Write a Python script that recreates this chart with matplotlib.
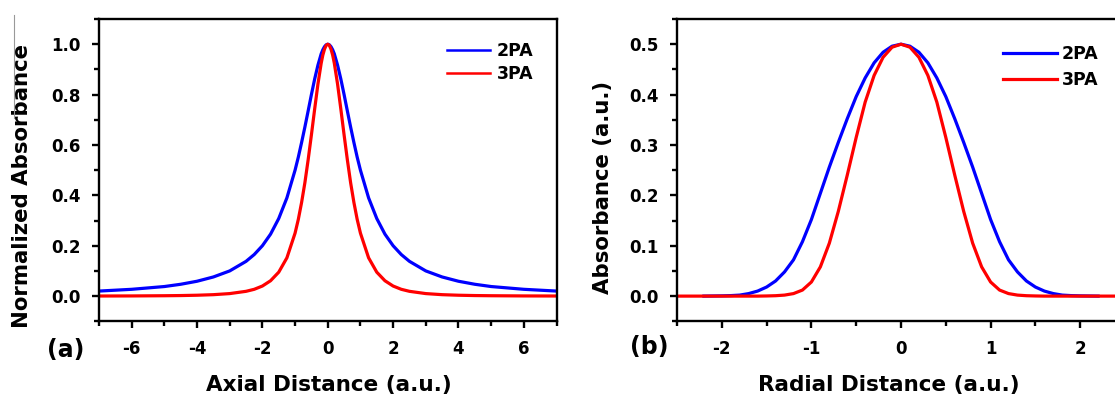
import matplotlib
matplotlib.use('Agg')
import matplotlib.pyplot as plt
from matplotlib.lines import Line2D
from matplotlib.ticker import MultipleLocator

plt.rcParams['font.family'] = 'DejaVu Sans'
plt.rcParams['font.weight'] = 'bold'
plt.rcParams['axes.unicode_minus'] = False

# (a) axial profiles
axial_x = [-7, -6, -5, -4.5, -4, -3.5, -3, -2.5, -2.25, -2, -1.75, -1.5, -1.25, -1,
           -0.9, -0.8, -0.7, -0.6, -0.5, -0.4, -0.3, -0.2, -0.15, -0.1, -0.05, 0,
           0.05, 0.1, 0.15, 0.2, 0.3, 0.4, 0.5, 0.6, 0.7, 0.8, 0.9,
           1, 1.25, 1.5, 1.75, 2, 2.25, 2.5, 3, 3.5, 4, 4.5, 5, 6, 7]
axial_2pa = [0.020, 0.027, 0.038, 0.047, 0.059, 0.076, 0.100, 0.138, 0.165, 0.200, 0.246, 0.308, 0.390, 0.500,
             0.552, 0.610, 0.671, 0.735, 0.800, 0.862, 0.917, 0.962, 0.978, 0.990, 0.9975, 1.000,
             0.9975, 0.990, 0.978, 0.962, 0.917, 0.862, 0.800, 0.735, 0.671, 0.610, 0.552,
             0.500, 0.390, 0.308, 0.246, 0.200, 0.165, 0.138, 0.100, 0.076, 0.059, 0.047, 0.038, 0.027, 0.020]
axial_3pa = [0.0004, 0.0007, 0.0015, 0.0022, 0.0035, 0.0057, 0.010, 0.019, 0.027, 0.040, 0.061, 0.095, 0.152, 0.250,
             0.305, 0.372, 0.450, 0.541, 0.640, 0.743, 0.842, 0.925, 0.957, 0.980, 0.995, 1.000,
             0.995, 0.980, 0.957, 0.925, 0.842, 0.743, 0.640, 0.541, 0.450, 0.372, 0.305,
             0.250, 0.152, 0.095, 0.061, 0.040, 0.027, 0.019, 0.010, 0.0057, 0.0035, 0.0022, 0.0015, 0.0007, 0.0004]

# (b) radial profiles
radial_x_2pa = [-2.2, -2.0, -1.9, -1.8, -1.7, -1.6, -1.5, -1.4, -1.3, -1.2, -1.1, -1.0,
                -0.9, -0.8, -0.7, -0.6, -0.5, -0.4, -0.3, -0.2, -0.1, 0,
                0.1, 0.2, 0.3, 0.4, 0.5, 0.6, 0.7, 0.8, 0.9,
                1.0, 1.1, 1.2, 1.3, 1.4, 1.5, 1.6, 1.7, 1.8, 1.9, 2.0, 2.2]
radial_2pa = [0.0, 0.0005, 0.001, 0.002, 0.005, 0.010, 0.018, 0.030, 0.048, 0.072, 0.108, 0.152,
              0.204, 0.256, 0.305, 0.352, 0.396, 0.433, 0.463, 0.484, 0.496, 0.500,
              0.496, 0.484, 0.463, 0.433, 0.396, 0.352, 0.305, 0.256, 0.204,
              0.152, 0.108, 0.072, 0.048, 0.030, 0.018, 0.010, 0.005, 0.002, 0.001, 0.0005, 0.0]
radial_x_3pa = [-2.5, -2.0, -1.6, -1.5, -1.4, -1.3, -1.2, -1.1, -1.0,
                -0.9, -0.8, -0.7, -0.6, -0.5, -0.4, -0.3, -0.2, -0.1, 0,
                0.1, 0.2, 0.3, 0.4, 0.5, 0.6, 0.7, 0.8, 0.9,
                1.0, 1.1, 1.2, 1.3, 1.4, 1.5, 1.6, 2.0, 2.5]
radial_3pa = [0.0, 0.0, 0.0, 0.0003, 0.0008, 0.002, 0.005, 0.012, 0.028,
              0.058, 0.105, 0.168, 0.240, 0.315, 0.385, 0.438, 0.474, 0.494, 0.500,
              0.494, 0.474, 0.438, 0.385, 0.315, 0.240, 0.168, 0.105, 0.058,
              0.028, 0.012, 0.005, 0.002, 0.0008, 0.0003, 0.0, 0.0, 0.0]

W, H = 1115, 397
fig = plt.figure(figsize=(W/100, H/100), dpi=100)
axA = fig.add_axes([99/W, 1-321.3/H, 457.5/W, 302.3/H])
axB = fig.add_axes([677/W, 1-321.3/H, 448/W, 302.3/H])


def style(ax):
    for s in ax.spines.values():
        s.set_linewidth(1.7)
    ax.tick_params(which='both', direction='out', top=False, right=False, width=1.7, labelsize=12, pad=8.5)
    ax.tick_params(which='major', length=5)
    ax.tick_params(which='minor', length=3.5)


axA.plot(axial_x, axial_2pa, color='#0000ff', lw=2.3, label='2PA')
axA.plot(axial_x, axial_3pa, color='#ff0000', lw=2.3, label='3PA')
axA.set_xlim(-7, 7); axA.set_ylim(-0.1, 1.1)
axA.xaxis.set_major_locator(MultipleLocator(2)); axA.xaxis.set_minor_locator(MultipleLocator(1))
axA.set_yticks([0, 0.2, 0.4, 0.6, 0.8, 1.0])
axA.set_yticklabels(['0.0', '0.2', '0.4', '0.6', '0.8', '1.0'])
axA.yaxis.set_minor_locator(MultipleLocator(0.1))
style(axA)
axA.set_xlabel('Axial Distance (a.u.)', fontsize=15.5, fontweight='bold', va='center')
axA.xaxis.set_label_coords(0.503, -0.211)
axA.set_ylabel('Normalized Absorbance', fontsize=15.3, fontweight='bold', va='center')
axA.yaxis.set_label_coords(-0.168, 0.448)
leg = axA.legend(loc='upper left', bbox_to_anchor=(0.760, 0.924), frameon=False, fontsize=12.5,
                 borderpad=0, borderaxespad=0, handlelength=2.5, handletextpad=0.4, labelspacing=0.3)
for h in leg.get_lines():
    h.set_linewidth(1.8)
axA.text(-0.072, -0.095, '(a)', transform=axA.transAxes, fontsize=17, fontweight='bold', ha='center', va='center')

axB.plot(radial_x_2pa, radial_2pa, color='#0000ff', lw=2.3, label='2PA')
axB.plot(radial_x_3pa, radial_3pa, color='#ff0000', lw=2.3, label='3PA')
axB.set_xlim(-2.5, 2.5); axB.set_ylim(-0.05, 0.55)
axB.xaxis.set_major_locator(MultipleLocator(1)); axB.xaxis.set_minor_locator(MultipleLocator(0.5))
axB.set_yticks([0, 0.1, 0.2, 0.3, 0.4, 0.5])
axB.set_yticklabels(['0.0', '0.1', '0.2', '0.3', '0.4', '0.5'])
axB.yaxis.set_minor_locator(MultipleLocator(0.05))
style(axB)
axB.set_xlabel('Radial Distance (a.u.)', fontsize=15.5, fontweight='bold', va='center')
axB.xaxis.set_label_coords(0.473, -0.211)
axB.set_ylabel('Absorbance (a.u.)', fontsize=15.3, fontweight='bold', va='center')
axB.yaxis.set_label_coords(-0.165, 0.444)
axB.legend(loc='upper left', bbox_to_anchor=(0.7277, 0.915), frameon=False, fontsize=12.5,
           borderpad=0, borderaxespad=0, handlelength=3.1, handletextpad=0.3, labelspacing=0.5)
axB.text(-0.063, -0.085, '(b)', transform=axB.transAxes, fontsize=17, fontweight='bold', ha='center', va='center')

# thin grey edge left over from the page crop
fig.add_artist(Line2D([14/W, 14/W], [1-15/H, 1-118/H], color='#999999', lw=0.8))

fig.savefig('out.png', dpi=100)
